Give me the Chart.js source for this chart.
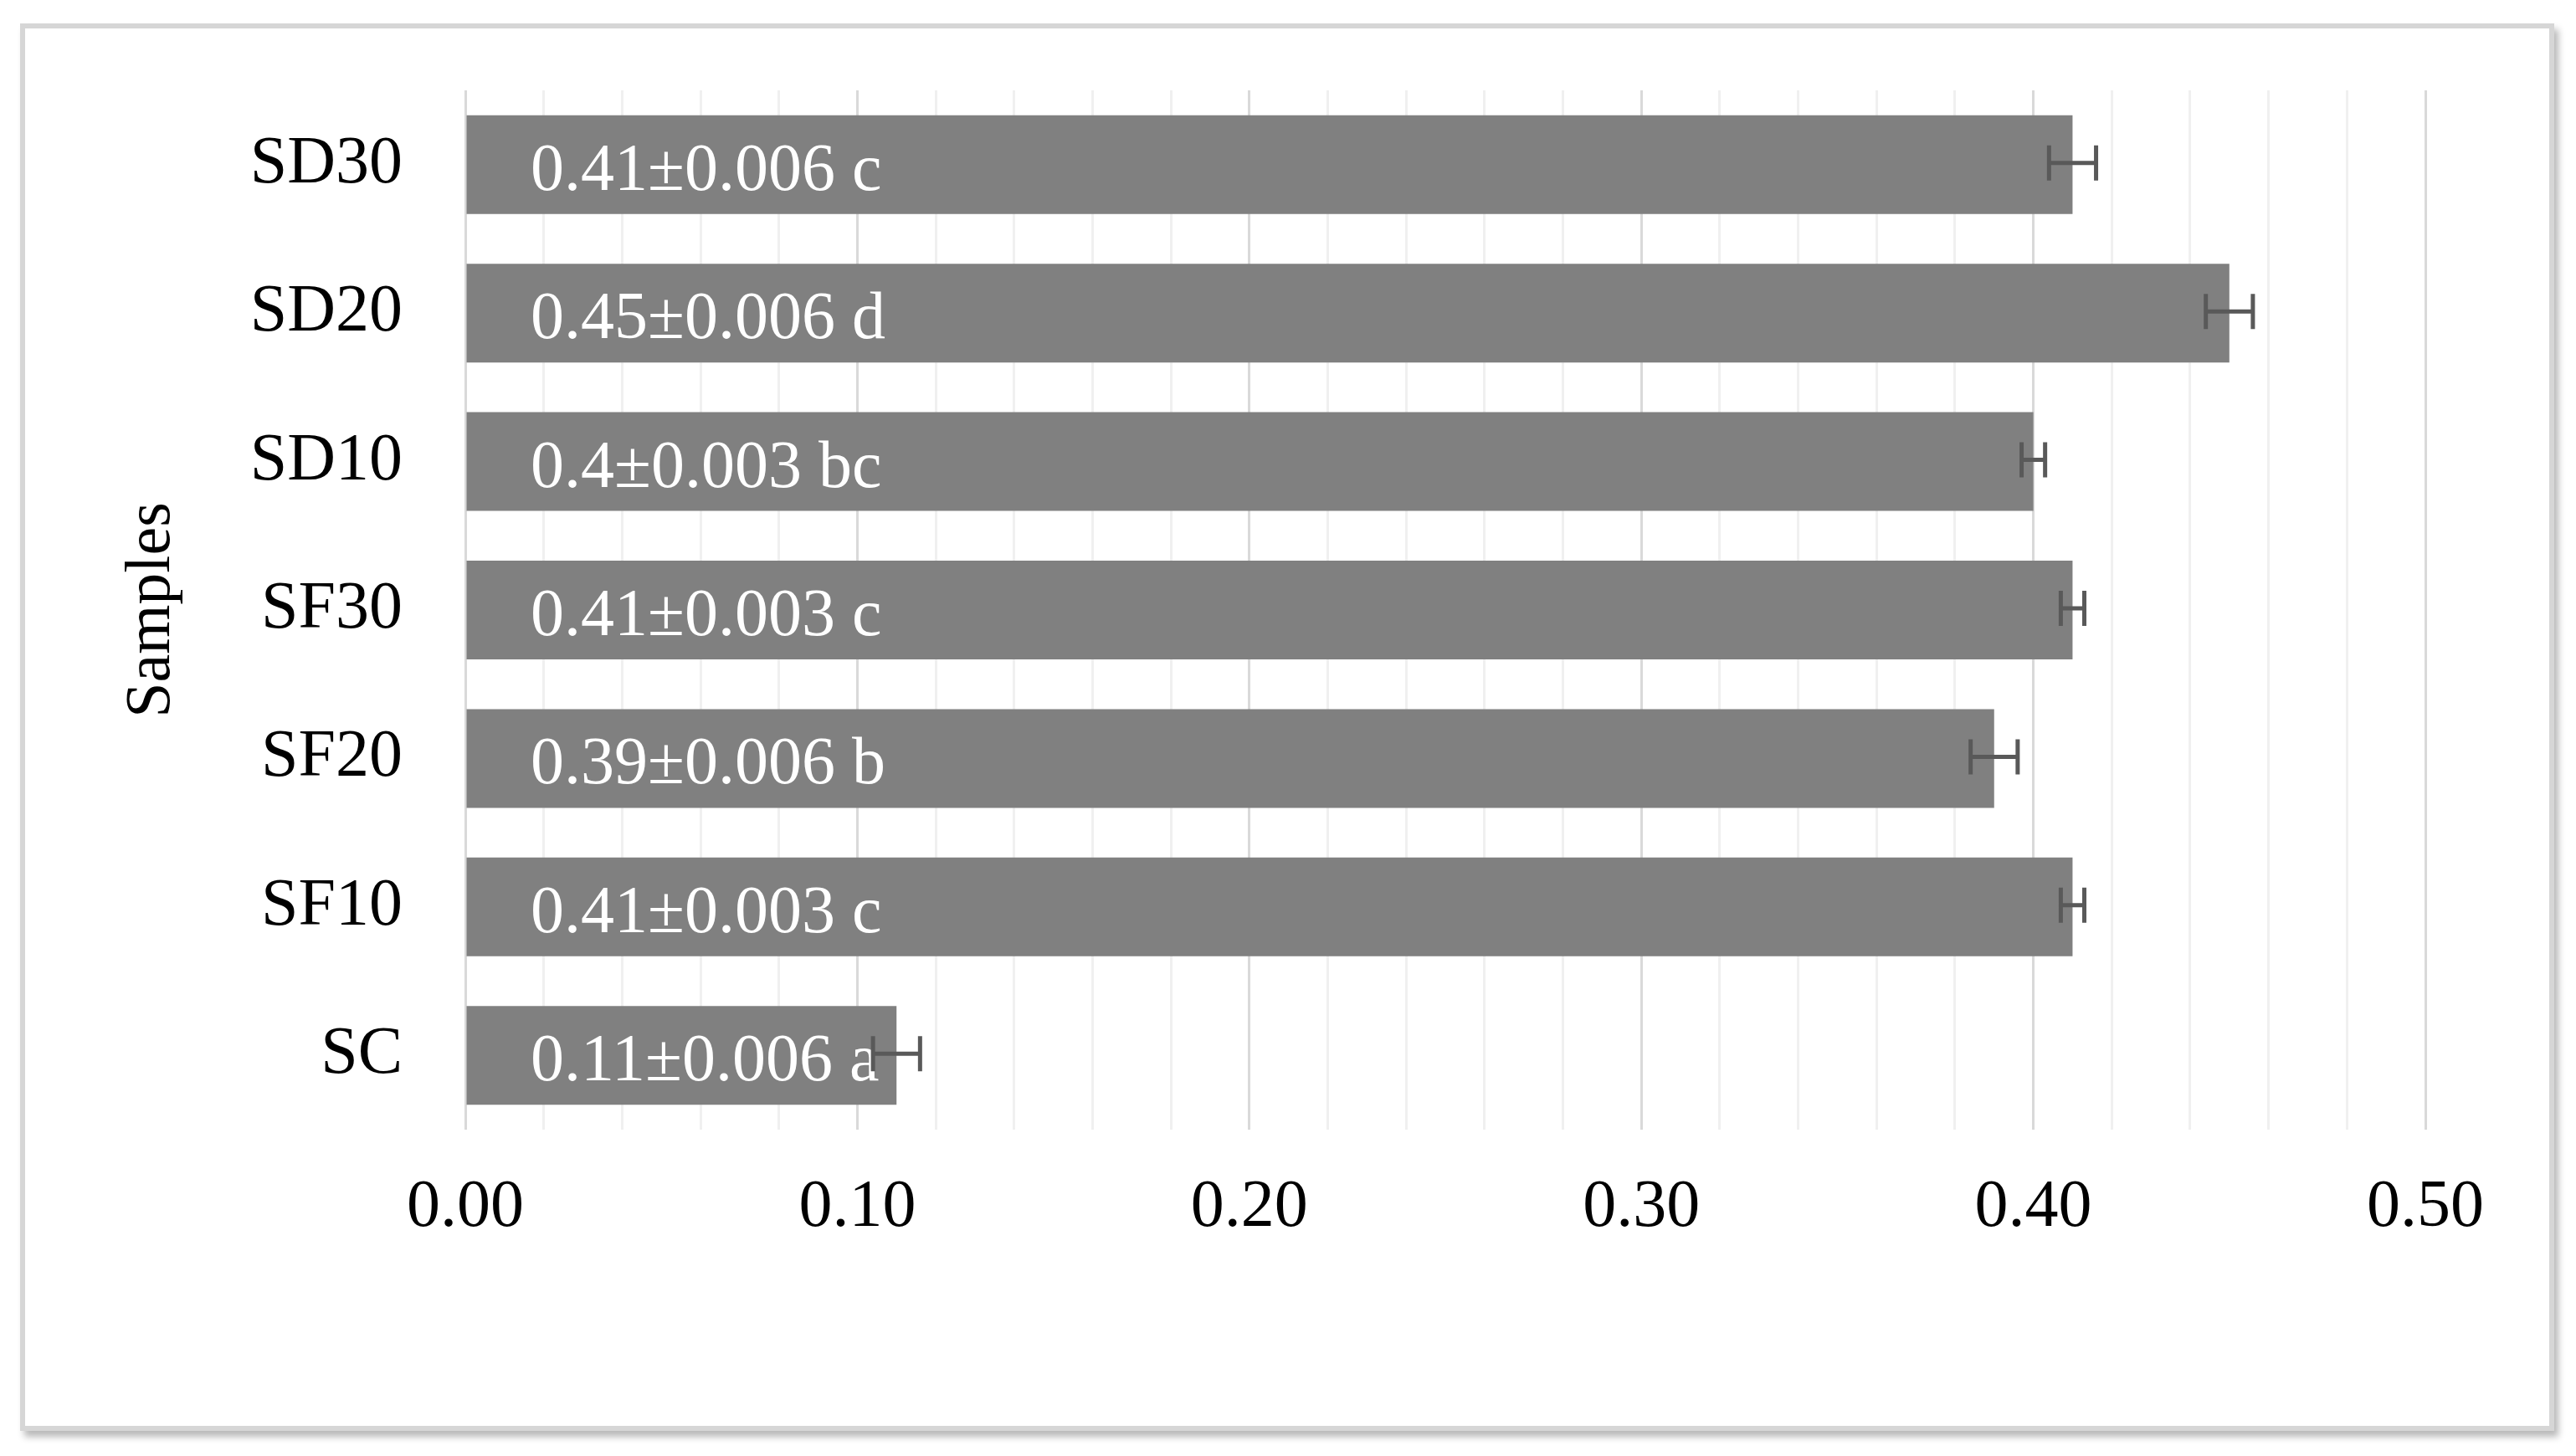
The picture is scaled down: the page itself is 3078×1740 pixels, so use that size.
<!DOCTYPE html>
<html>
<head>
<meta charset="utf-8">
<script src="https://cdn.jsdelivr.net/npm/chart.js@4"></script>
<style>
  html, body { margin: 0; padding: 0; background: #fff; }
  #frame {
    position: absolute; left: 24px; top: 28px; width: 3016px; height: 1670px;
    border: 6px solid #d6d6d6; background: #fff;
    box-shadow: 5px 7px 8px rgba(0,0,0,0.28);
  }
  #wrap { position: absolute; left: 0; top: 0; width: 3078px; height: 1740px; }
</style>
</head>
<body>
<div id="frame"></div>
<div id="wrap"><canvas id="chart" width="3078" height="1740"></canvas></div>
<script>
// samples, top to bottom as shown
const categories = ['SD30', 'SD20', 'SD10', 'SF30', 'SF20', 'SF10', 'SC'];
const means = [0.41, 0.45, 0.40, 0.41, 0.39, 0.41, 0.11];
const sds = [0.006, 0.006, 0.003, 0.003, 0.006, 0.003, 0.006];
const letters = ['c', 'd', 'bc', 'c', 'b', 'c', 'a'];
const xTicks = ['0.00', '0.10', '0.20', '0.30', '0.40', '0.50'];

const FONT = '"Liberation Serif", "Times New Roman", serif';

// value labels inside the bars and the error bars
const barExtras = {
    id: 'barExtras',
    afterDatasetsDraw(chart) {
        const ctx = chart.ctx;
        const x = chart.scales.x;
        const meta = chart.getDatasetMeta(0);
        ctx.save();
        ctx.font = '80px ' + FONT;
        ctx.fillStyle = '#ffffff';
        ctx.textAlign = 'left';
        ctx.textBaseline = 'middle';
        meta.data.forEach((bar, i) => {
            const txt = String(means[i]) + '\u00b1' + sds[i] + ' ' + letters[i];
            ctx.fillText(txt, x.getPixelForValue(0) + 78, bar.y + 9);
        });
        ctx.strokeStyle = '#595959';
        ctx.lineWidth = 5;
        meta.data.forEach((bar, i) => {
            const lo = x.getPixelForValue(means[i] - sds[i]);
            const hi = x.getPixelForValue(means[i] + sds[i]);
            const y = bar.y - 2;
            ctx.beginPath();
            ctx.moveTo(lo, y); ctx.lineTo(hi, y);
            ctx.moveTo(lo, y - 21); ctx.lineTo(lo, y + 21);
            ctx.moveTo(hi, y - 21); ctx.lineTo(hi, y + 21);
            ctx.stroke();
        });
        ctx.restore();
    }
};

const isMajor = v => Math.round(v * 50) % 5 === 0;

new Chart(document.getElementById('chart').getContext('2d'), {
    type: 'bar',
    data: {
        labels: categories,
        datasets: [{
            data: means,
            backgroundColor: '#808080',
            barPercentage: 0.665,
            categoryPercentage: 1
        }]
    },
    plugins: [barExtras],
    options: {
        indexAxis: 'y',
        responsive: false,
        animation: false,
        layout: { padding: { top: 108, right: 180, left: 0, bottom: 0 } },
        plugins: {
            legend: { display: false },
            tooltip: { enabled: false }
        },
        scales: {
            x: {
                min: 0,
                max: 0.5,
                border: { display: false },
                grid: {
                    drawTicks: false,
                    lineWidth: 3,
                    color: c => isMajor(c.tick.value) ? '#d9d9d9' : '#f0f0f0'
                },
                ticks: {
                    stepSize: 0.02,
                    autoSkip: false,
                    maxRotation: 0,
                    minRotation: 0,
                    padding: 46,
                    color: '#000',
                    font: { family: FONT, size: 80 },
                    callback: v => isMajor(v) ? xTicks[Math.round(v * 10)] : ''
                },
                afterFit: s => { s.height = 390; }
            },
            y: {
                border: { display: false },
                grid: { display: false, drawTicks: false },
                ticks: {
                    padding: 75,
                    color: '#000',
                    font: { family: FONT, size: 80 }
                },
                title: {
                    display: true,
                    text: 'Samples',
                    color: '#000',
                    font: { family: FONT, size: 76 },
                    padding: { top: 136, bottom: 0 }
                },
                afterFit: s => { s.width = 556; s.paddingTop = 0; s.paddingBottom = 0; }
            }
        }
    }
});
</script>
</body>
</html>
